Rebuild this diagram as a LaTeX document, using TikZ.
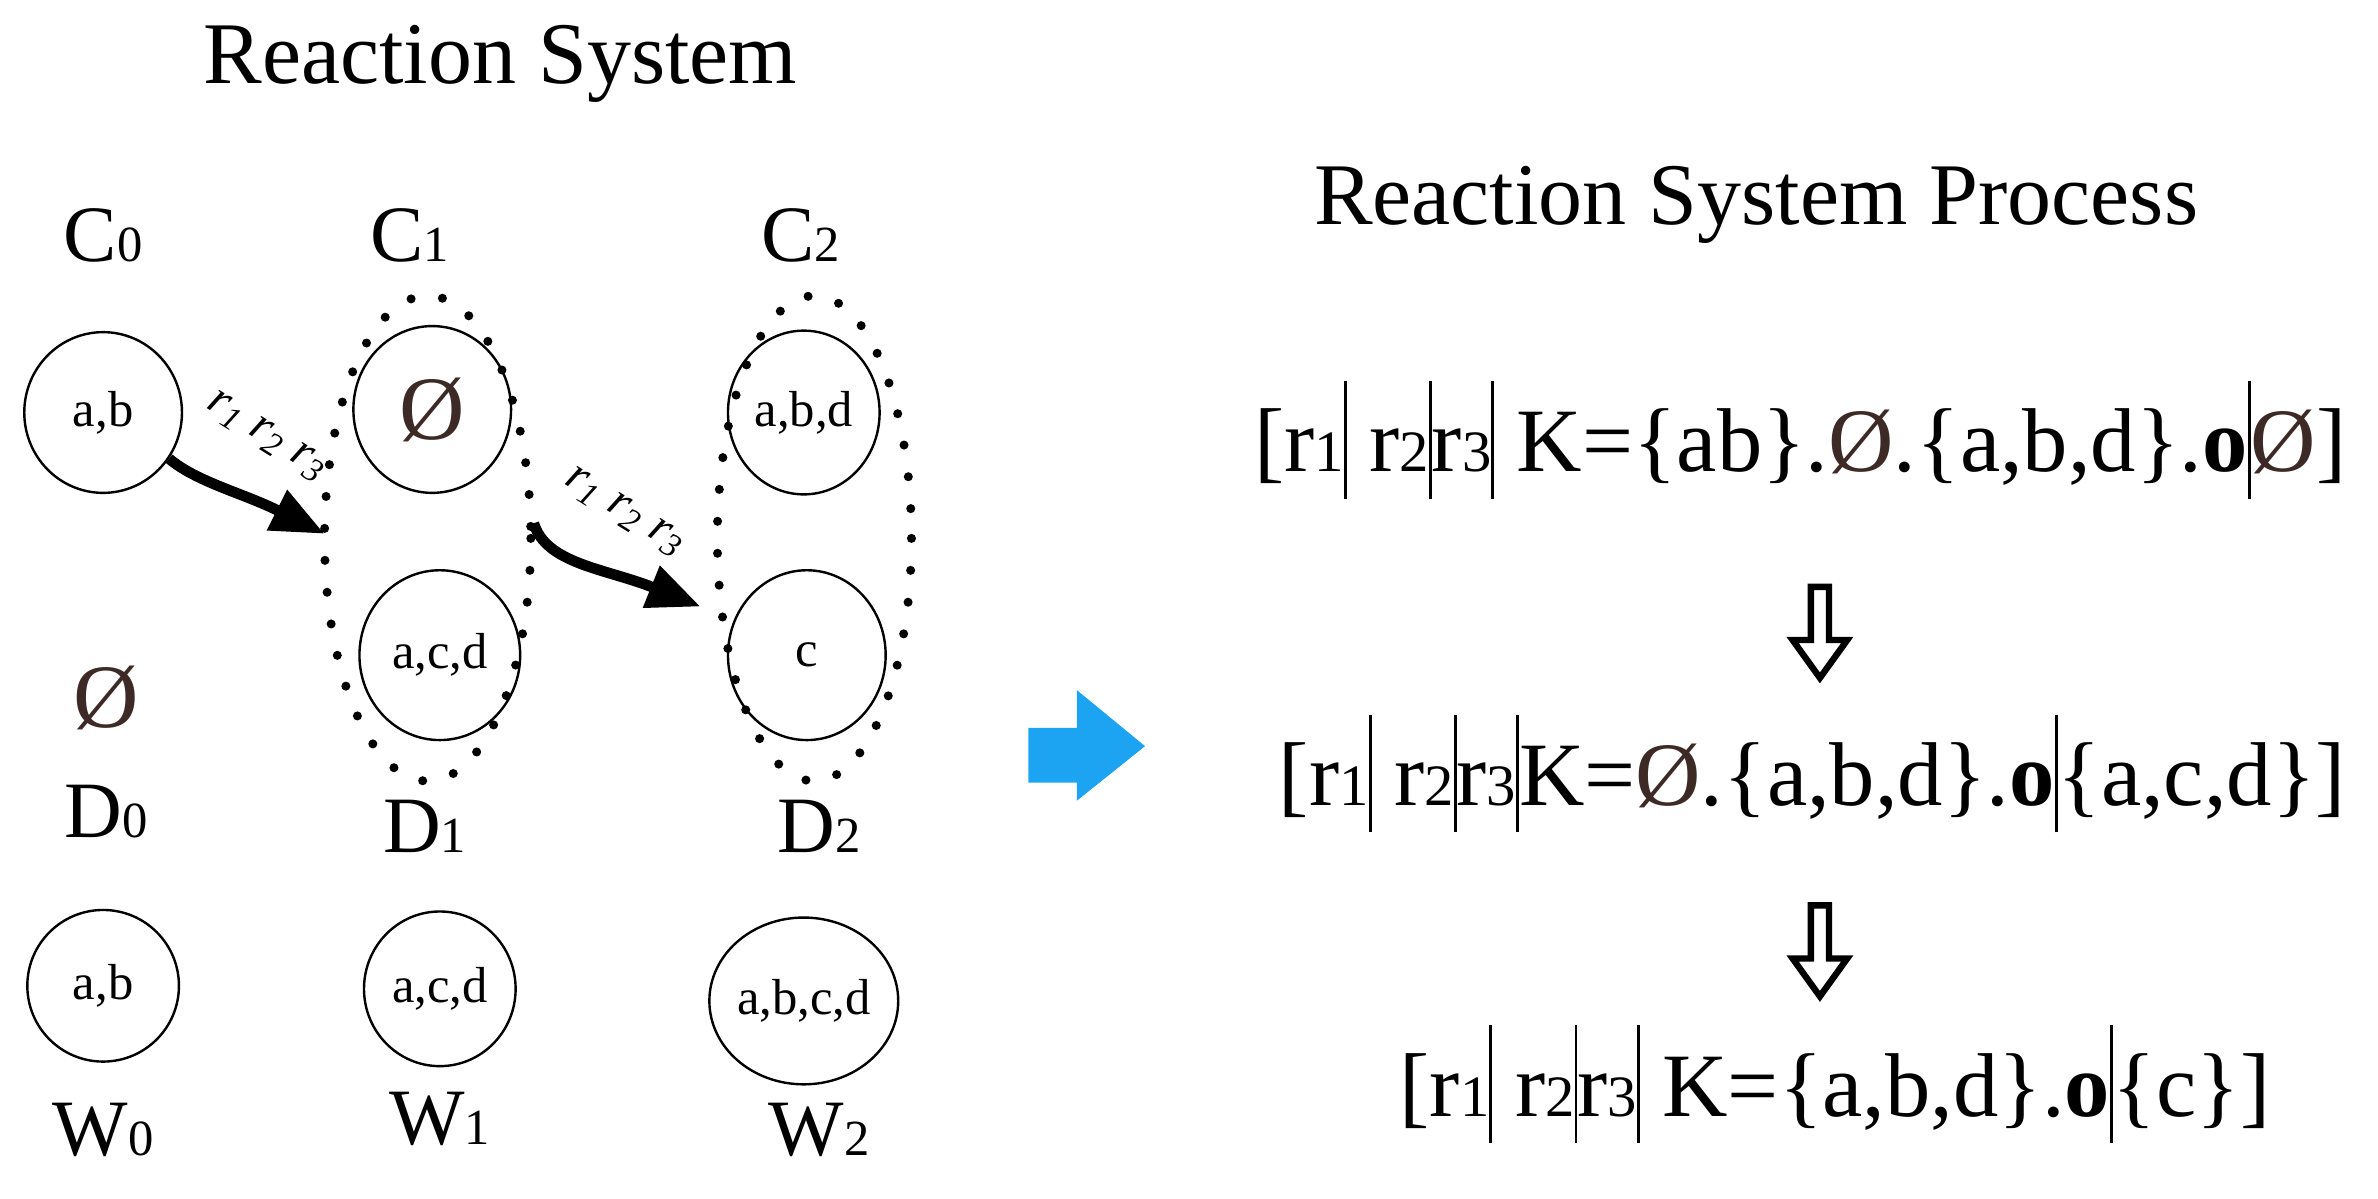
\documentclass[tikz,border=0pt]{standalone}
\usepackage{fontspec}
\setmainfont{Liberation Serif}
\usetikzlibrary{arrows.meta,shapes.geometric}
\definecolor{brn}{HTML}{3D2A26}
\definecolor{blu}{HTML}{1CA4F2}
\newcommand{\lsub}[1]{{\fontsize{19}{19}\selectfont #1}}
\newcommand{\fsub}[1]{{\fontsize{22}{22}\selectfont #1}}
\newcommand{\es}{{\color{brn}Ø}}
\newcommand{\vb}{\rule[-0.3em]{1.1pt}{1.3em}}
\tikzset{
  big/.style={font=\fontsize{33}{34}\selectfont},
  lab/.style={font=\fontsize{30}{32}\selectfont},
  circ/.style={draw,ellipse,line width=0.9pt,inner sep=0pt,font=\fontsize{19}{20}\selectfont},
  dots/.style={line width=3.4pt,dash pattern=on 0pt off 12pt,line cap=round},
  flow/.style={line width=4pt,-{Triangle[length=20pt,width=16pt]}},
  rl/.style={font=\fontsize{18}{18}\selectfont\itshape},
  form/.style={font=\fontsize{34}{36}\selectfont},
  dn/.style={draw,line width=2.4pt,fill=white}
}
\begin{document}
\begin{tikzpicture}[x=0.02cm,y=-0.02cm]
\useasboundingbox (0,0) rectangle (1568,790);
\node[big] (t1) at (330,42) {Reaction System};
\node[big] (t2) at (1158,135) {Reaction System Process};
\node[lab] (c0) at (68,155) {C\lsub{0}};
\node[lab] (c1) at (270,155) {C\lsub{1}};
\node[lab] (c2) at (528,155) {C\lsub{2}};
\node[circ,minimum width=2.08cm,minimum height=2.12cm] (e0) at (68,272) {a,b};
\node[circ,minimum width=2.08cm,minimum height=2.2cm,font=\fontsize{34}{34}\selectfont] (e1a) at (285,270) {\es};
\node[circ,minimum width=2.12cm,minimum height=2.24cm] (e1b) at (290,432) {a,c,d};
\node[circ,minimum width=2.0cm,minimum height=2.16cm] (e2a) at (530,272) {a,b,d};
\node[circ,minimum width=2.08cm,minimum height=2.24cm] (e2b) at (532,432) {c};
\draw[dots] (282,355) ellipse [x radius=68, y radius=160];
\draw[dots] (537,355) ellipse [x radius=64, y radius=160];
\node[lab,font=\fontsize{34}{34}\selectfont] (d0e) at (70,460) {\es};
\node[lab] (d0) at (70,535) {D\lsub{0}};
\node[lab] (d1) at (280,545) {D\lsub{1}};
\node[lab] (d2) at (540,545) {D\lsub{2}};
\node[circ,minimum width=2.0cm,minimum height=2.0cm] (w0c) at (68,650) {a,b};
\node[circ,minimum width=2.0cm,minimum height=2.04cm] (w1c) at (290,652) {a,c,d};
\node[circ,minimum width=2.16cm,minimum height=2.2cm] (w2c) at (530,660) {a,b,c,d};
\node[lab] (w0) at (68,745) {W\lsub{0}};
\node[lab] (w1) at (290,738) {W\lsub{1}};
\node[lab] (w2) at (540,745) {W\lsub{2}};
\coordinate (a1e) at (214,352);
\coordinate (a2s) at (352,345);
\coordinate (a2e) at (462,400);
\draw[flow] (e0.-35) .. controls (130,318) and (160,325) .. (a1e);
\draw[flow] (a2s) .. controls (360,372) and (400,375) .. (a2e);
\node[rl,rotate=-32] (l1) at (176,288) {r\textsubscript{1} r\textsubscript{2} r\textsubscript{3}};
\node[rl,rotate=-32] (l2) at (412,338) {r\textsubscript{1} r\textsubscript{2} r\textsubscript{3}};
\fill[blu] (678,480) -- (710,480) -- (710,455) -- (755,492) -- (710,528) -- (710,516) -- (678,516) -- cycle;
\node[form] (f1) at (1187,290) {[r\fsub{1}\vb\ r\fsub{2}\vb r\fsub{3}\vb\ K=\{ab\}.\es.\{a,b,d\}.\textbf{o}\vb\es]};
\node[form] (f2) at (1195,510) {[r\fsub{1}\vb\ r\fsub{2}\vb r\fsub{3}\vb K=\es.\{a,b,d\}.\textbf{o}\vb\{a,c,d\}]};
\node[form] (f3) at (1210,715) {[r\fsub{1}\vb\ r\fsub{2}\vb r\fsub{3}\vb\ K=\{a,b,d\}.\textbf{o}\vb\{c\}]};
\draw[dn] (1194,387) -- (1206,387) -- (1206,422) -- (1218,422) -- (1200,447) -- (1182,422) -- (1194,422) -- cycle;
\draw[dn] (1194,597) -- (1206,597) -- (1206,632) -- (1218,632) -- (1200,657) -- (1182,632) -- (1194,632) -- cycle;
\end{tikzpicture}
\end{document}
